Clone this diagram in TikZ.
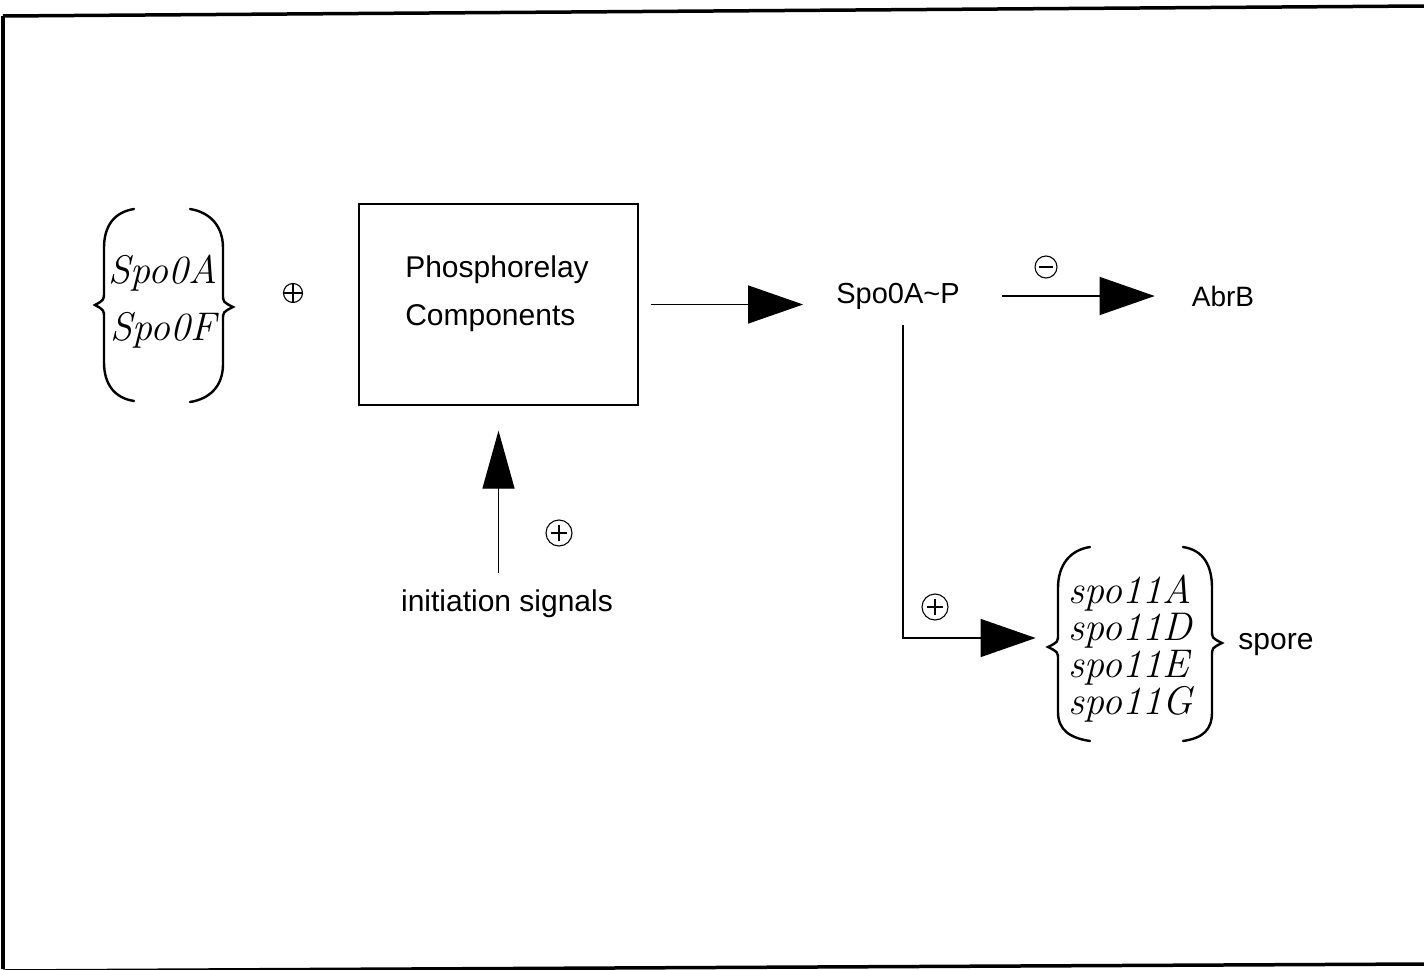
\documentclass[tikz,border=0pt]{standalone}
\usepackage{fontspec}
\usetikzlibrary{arrows.meta}
\newfontfamily\plotfont{Liberation Sans}
\begin{document}
\begin{tikzpicture}[x=1pt,y=-1pt,
  frame/.style={line width=3.5pt},
  brace/.style={line width=2.4pt, line cap=round},
  lbl/.style={font=\plotfont\fontsize{30}{48}\selectfont, inner sep=2pt},
  gene/.style={font=\itshape\fontsize{40}{37}\selectfont, inner sep=0pt, align=left},
  arr/.style={line width=1.3pt, -{Triangle[length=55pt,width=38pt]}},
  uparr/.style={line width=1.3pt, -{Triangle[length=58pt,width=32pt]}},
  plussign/.style={circle, draw, line width=1.1pt, minimum size=#1, inner sep=0pt,
    path picture={\draw[line width=1.1pt]
      (path picture bounding box.center) ++(-0.32*#1,0) -- ++(0.64*#1,0)
      (path picture bounding box.center) ++(0,-0.32*#1) -- ++(0,0.64*#1);}},
  bigplus/.style={circle, draw, line width=1.1pt, minimum size=#1, inner sep=0pt,
    path picture={\draw[line width=1.1pt]
      (path picture bounding box.center) ++(-0.5*#1,0) -- ++(#1,0)
      (path picture bounding box.center) ++(0,-0.5*#1) -- ++(0,#1);}},
  minussign/.style={circle, draw, line width=1.1pt, minimum size=#1, inner sep=0pt,
    path picture={\draw[line width=1.6pt]
      (path picture bounding box.center) ++(-0.3*#1,0) -- ++(0.6*#1,0);}}
]
\useasboundingbox (0,0) rectangle (1424,969);

% outer frame
\draw[frame] (3,16) -- (1424,6);
\draw[frame] (3,16) -- (3,969);
\draw[frame] (3,971) -- (1424,964);

% Spo0A / Spo0F group
\node[gene] (spoA) at (163,273) {Spo0A};
\node[gene] (spoF) at (163,330) {Spo0F};
\draw[brace] (134,209) .. controls (115,212) and (104,225) .. (104,248) -- (104,292)
  .. controls (104,300) .. (95,305) .. controls (104,310) .. (104,318) -- (104,362)
  .. controls (104,385) and (115,398) .. (134,401);
\draw[brace] (190,209) .. controls (209,212) and (223,225) .. (223,248) -- (223,294)
  .. controls (223,302) .. (233,307) .. controls (223,312) .. (223,320) -- (223,364)
  .. controls (223,387) and (209,399) .. (190,402);
\node[bigplus=19] (plusA) at (293,293) {};

% phosphorelay box
\node[draw, line width=1.3pt, minimum width=279pt, minimum height=201pt] (relay) at (498.5,304.5) {};
\node[lbl, align=left] (relaytext) at (497,294) {Phosphorelay\\Components};

% products
\node[lbl, font=\plotfont\fontsize{29}{30}\selectfont] (spoap) at (898,296) {Spo0A\textasciitilde P};
\node[lbl, font=\plotfont\fontsize{28}{30}\selectfont] (abrb) at (1223,296) {AbrB};
\node[minussign=22] (minus) at (1046,267) {};

% initiation signals
\node[lbl] (signals) at (507,604) {initiation signals};
\node[plussign=26] (plusB) at (559,533) {};

% sporulation genes
\node[gene] (genes) at (1131,649) {spo11A\\spo11D\\spo11E\\spo11G};
\draw[brace] (1090,547) .. controls (1070,550) and (1058,565) .. (1058,588) -- (1058,634)
  .. controls (1058,642) .. (1048,647) .. controls (1058,652) .. (1058,660) -- (1058,712)
  .. controls (1058,730) and (1070,738) .. (1090,741);
\draw[brace] (1183,547) .. controls (1203,550) and (1212,565) .. (1212,588) -- (1212,630)
  .. controls (1212,638) .. (1222,643) .. controls (1212,648) .. (1212,656) -- (1212,712)
  .. controls (1212,730) and (1203,738) .. (1183,741);
\node[lbl] (spore) at (1276,645) {spore};
\node[plussign=26] (plusC) at (935,607) {};

% connectors
\draw[arr, shorten <=12pt, shorten >=31pt] (relay.east) -- (relay.east -| spoap.west);
\draw[arr, shorten <=40pt, shorten >=35pt] (spoap.east) -- (abrb.west);
\draw[uparr, shorten <=15pt, shorten >=25pt] (signals.north -| relay.south) -- (relay.south);
\draw[arr, shorten <=14pt, shorten >=33pt] ([xshift=5pt]spoap.south) |- ([yshift=11pt]genes.west);
\end{tikzpicture}
\end{document}
